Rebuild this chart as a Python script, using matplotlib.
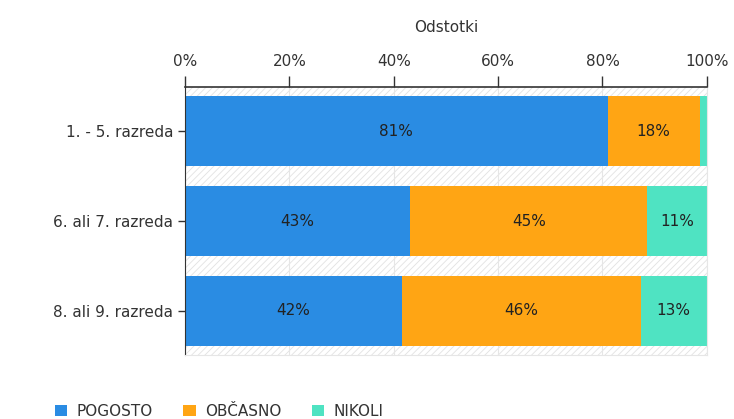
import matplotlib.pyplot as plt
import matplotlib.patches as mpatches
import numpy as np

razredi = ["1. - 5. razreda", "6. ali 7. razreda", "8. ali 9. razreda"]
serije = ["POGOSTO", "OBČASNO", "NIKOLI"]
pogosto = [81.0, 43.2, 41.5]
obcasno = [17.6, 45.4, 45.8]
nikoli = [1.4, 11.4, 12.7]
barve = ["#2a8ce3", "#ffa514", "#4fe3c2"]

plt.rcParams["hatch.linewidth"] = 0.6
plt.rcParams["hatch.color"] = "#e2e2e2"

fig = plt.figure(figsize=(7.34, 4.19), dpi=100)
ax = fig.add_axes([0.252, 0.153, 0.711, 0.639])

# crtkano ozadje
ax.add_patch(mpatches.Rectangle((0, 0), 1, 1, transform=ax.transAxes, facecolor="white",
                                edgecolor="#e2e2e2", hatch="/////", lw=0, zorder=0))

y = np.arange(len(razredi))
levo = np.zeros(len(razredi))
for vrednosti, ime, barva in zip([pogosto, obcasno, nikoli], serije, barve):
    v = np.array(vrednosti)
    ax.barh(y, v, left=levo, height=0.778, color=barva, label=ime, zorder=2)
    for yi, l, w in zip(y, levo, v):
        if w >= 5:
            ax.text(l + w / 2, yi, f"{round(w):d}%", ha="center", va="center",
                    fontsize=11, color="#222222", zorder=3)
    levo += v

ax.set_xlim(0, 100)
ax.set_ylim(2.489, -0.489)
ax.set_yticks(y)
ax.set_yticklabels(razredi, fontsize=11, color="#333333")
ax.set_xticks([0, 20, 40, 60, 80, 100])
ax.set_xticklabels([f"{t}%" for t in [0, 20, 40, 60, 80, 100]], fontsize=11, color="#333333")
ax.xaxis.tick_top()
ax.xaxis.set_label_position("top")
ax.set_xlabel("Odstotki", fontsize=11, color="#333333", labelpad=16)
ax.tick_params(axis="x", direction="out", length=8, width=1, color="#333333", pad=5)
ax.tick_params(axis="y", direction="out", length=5, width=1, color="#333333")
ax.grid(axis="x", color="#e6e6e6", lw=0.8, zorder=1)
ax.set_axisbelow(True)

for s in ["bottom", "right"]:
    ax.spines[s].set_color("#e6e6e6")
ax.spines["left"].set_color("#333333")
ax.spines["top"].set_color("#333333")
ax.spines["top"].set_linewidth(1.2)

ax.legend(loc="lower left", bbox_to_anchor=(-0.275, -0.29), ncol=3, frameon=False,
          fontsize=11, handlelength=0.8, handleheight=0.8, columnspacing=2.0,
          handletextpad=0.6, labelcolor="#333333")

fig.savefig("out.png", dpi=100)
